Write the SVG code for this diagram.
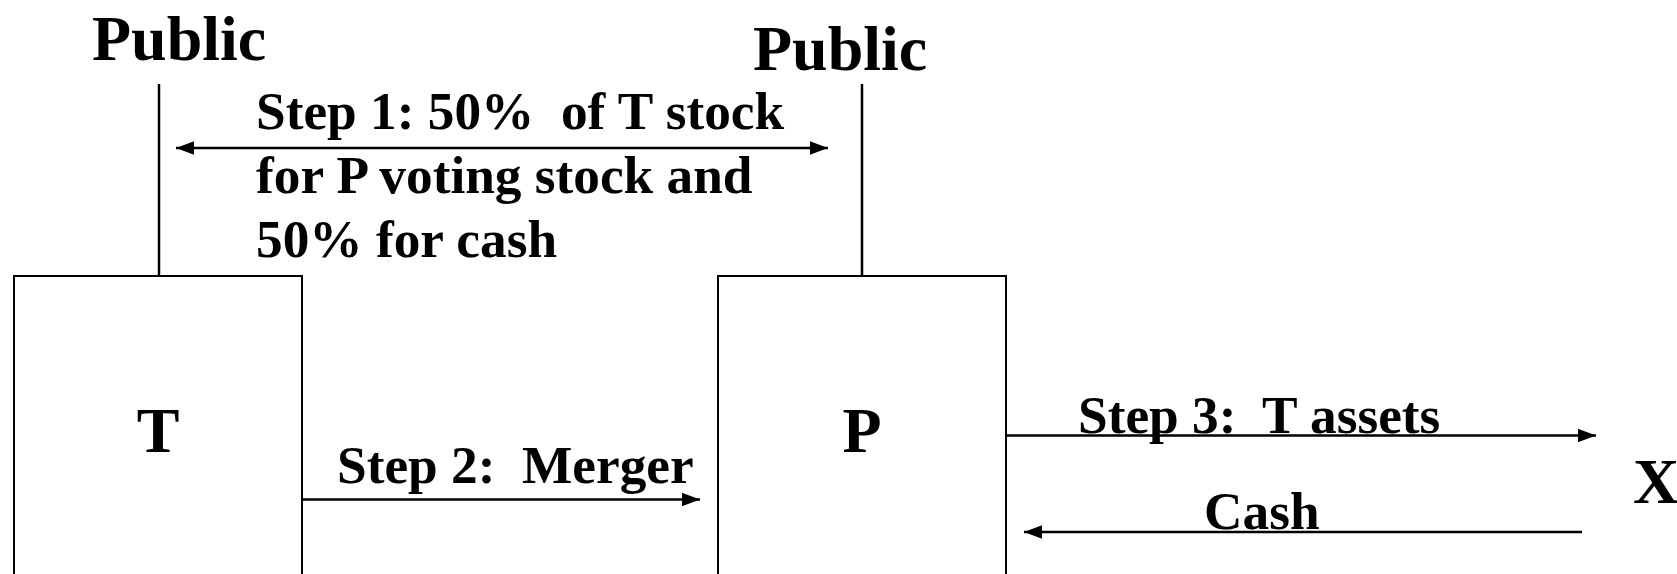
<svg xmlns="http://www.w3.org/2000/svg" width="1677" height="574" viewBox="0 0 1677 574">
<style>
  text { font-family: "Liberation Serif", "Times New Roman", serif; font-weight: bold; fill: #000; white-space: pre; }
  .big { font-size: 64px; }
  .lbl { font-size: 53.3px; }
  .box { fill: #fff; stroke: #000; stroke-width: 2; }
  .ln { stroke: #000; stroke-width: 2.5; fill: none; }
</style>
<defs>
  <marker id="ah" markerUnits="userSpaceOnUse" markerWidth="18" markerHeight="14" refX="16" refY="6" orient="auto-start-reverse" viewBox="0 0 16 12">
    <path d="M0,0 L16,6 L0,12 z" fill="#000"/>
  </marker>
</defs>
<rect width="1677" height="574" fill="#fff"/>

<g id="public-left">
  <text class="big" x="92" y="60">Public</text>
</g>
<g id="public-right">
  <text class="big" x="753" y="70">Public</text>
</g>
<g id="node-T">
  <rect class="box" x="14" y="276" width="288" height="310"/>
  <text class="big" x="158" y="452" text-anchor="middle">T</text>
</g>
<g id="node-P">
  <rect class="box" x="718" y="276" width="288" height="310"/>
  <text class="big" x="862" y="452" text-anchor="middle">P</text>
</g>
<g id="node-X">
  <text class="big" x="1633" y="503">X</text>
</g>

<g id="connectors">
  <line class="ln" x1="159" y1="84" x2="159" y2="276"/>
  <line class="ln" x1="862" y1="84" x2="862" y2="276"/>
  <line class="ln" x1="176" y1="148" x2="828" y2="148" marker-start="url(#ah)" marker-end="url(#ah)"/>
  <line class="ln" x1="302" y1="499.5" x2="700" y2="499.5" marker-end="url(#ah)"/>
  <line class="ln" x1="1006" y1="435.5" x2="1596" y2="435.5" marker-end="url(#ah)"/>
  <line class="ln" x1="1582" y1="532" x2="1024" y2="532" marker-end="url(#ah)"/>
</g>

<g id="labels">
  <text class="lbl" x="256" y="129">Step 1: 50%  of T stock</text>
  <text class="lbl" x="256" y="193">for P voting stock and</text>
  <text class="lbl" x="256" y="257">50% for cash</text>
  <text class="lbl" x="337" y="483">Step 2:  Merger</text>
  <text class="lbl" x="1078" y="433">Step 3:  T assets</text>
  <text class="lbl" x="1204" y="529">Cash</text>
</g>
</svg>
